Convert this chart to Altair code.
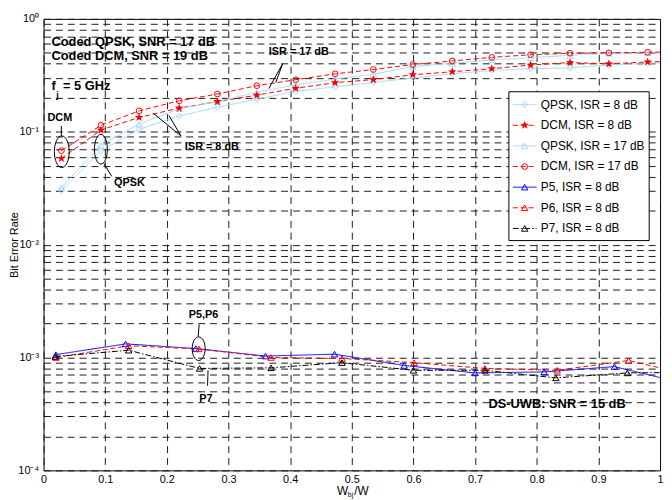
import math
import altair as alt
import pandas as pd

# ---------------- data ----------------
series_names = ["QPSK, ISR = 8 dB", "DCM, ISR = 8 dB", "QPSK, ISR = 17 dB",
                "DCM, ISR = 17 dB", "P5, ISR = 8 dB", "P6, ISR = 8 dB", "P7, ISR = 8 dB"]

x_up = [0.029, 0.093, 0.155, 0.22, 0.282, 0.346, 0.409, 0.473, 0.535, 0.599,
        0.663, 0.727, 0.79, 0.854, 0.917, 0.98, 1.043]
qpsk8 = [0.030, 0.068, 0.105, 0.138, 0.165, 0.194, 0.228, 0.25, 0.274, 0.299,
         0.326, 0.35, 0.362, 0.368, 0.39, 0.404, 0.415]
dcm8 = [0.058, 0.1035, 0.134, 0.162, 0.185, 0.211, 0.243, 0.272, 0.29, 0.32,
        0.34, 0.362, 0.39, 0.41, 0.40, 0.415, 0.425]
qpsk17 = [0.032, 0.076, 0.117, 0.16, 0.185, 0.224, 0.261, 0.293, 0.324, 0.378,
          0.404, 0.432, 0.453, 0.475, 0.495, 0.50, 0.505]
dcm17 = [0.068, 0.114, 0.153, 0.188, 0.216, 0.256, 0.289, 0.326, 0.356, 0.394,
         0.424, 0.456, 0.481, 0.496, 0.500, 0.506, 0.51]

x_p5 = [0.02, 0.133, 0.247, 0.36, 0.472, 0.585, 0.70, 0.812, 0.926, 1.039]
p5 = [1.06e-3, 1.32e-3, 1.2e-3, 1.03e-3, 1.07e-3, 0.85e-3, 0.73e-3, 0.745e-3, 0.83e-3, 0.59e-3]
x_p6 = [0.02, 0.138, 0.252, 0.369, 0.484, 0.601, 0.716, 0.833, 0.949, 1.064]
p6 = [1.0e-3, 1.27e-3, 1.19e-3, 1.0e-3, 0.98e-3, 0.90e-3, 0.80e-3, 0.77e-3, 0.94e-3, 0.67e-3]
x_p7 = [0.019, 0.138, 0.253, 0.369, 0.484, 0.60, 0.716, 0.831, 0.947, 1.064]
p7 = [1.02e-3, 1.16e-3, 0.80e-3, 0.81e-3, 0.90e-3, 0.77e-3, 0.77e-3, 0.66e-3, 0.73e-3, 0.74e-3]

x_ticks = [0, 0.1, 0.2, 0.3, 0.4, 0.5, 0.6, 0.7, 0.8, 0.9, 1]

# legend placement (data coordinates of the box, the rows, sample line and label)
leg_box_x = [0.7548, 0.9824]
leg_box_y = [0.2261, 0.01086]
leg_row_y = [0.1740, 0.1142, 0.07494, 0.04920, 0.03229, 0.02120, 0.01391]
leg_line_x = [0.7612, 0.7997]
leg_mark_x = 0.7804
leg_label_x = 0.8066

# annotation texts (data coordinates)
big_text = ["Coded QPSK, SNR = 17 dB", "Coded DCM, SNR = 19 dB", "f", "= 5 GHz"]
big_x = [0.0128, 0.0128, 0.0128, 0.0315]
big_y = [0.623, 0.465, 0.252, 0.252]
ctr_text = ["DS-UWB: SNR = 15 dB"]
ctr_x = [0.833]
ctr_y = [3.89e-4]
small_text = ["DCM", "QPSK", "ISR = 17 dB", "ISR = 8 dB", "P5,P6", "P7"]
small_x = [0.0264, 0.1394, 0.414, 0.273, 0.2596, 0.2633]
small_y = [0.132, 0.0352, 0.506, 0.0726, 2.40e-3, 4.27e-4]
sub_text = ["j"]
sub_x = [0.0205]
sub_y = [0.212]

# annotation segments
seg_x = [0.0288, 0.0978, 0.3878, 0.3878, 0.2228, 0.2228, 0.2524, 0.2668]
seg_y = [0.1124, 0.0523, 0.400, 0.400, 0.0919, 0.0919, 1.96e-3, 7.68e-4]
seg_x2 = [0.0288, 0.1106, 0.3654, 0.3766, 0.1779, 0.2035, 0.2508, 0.266]
seg_y2 = [0.0919, 0.0402, 0.2416, 0.2727, 0.146, 0.139, 1.54e-3, 5.62e-4]

# annotation ellipses
ell_name = ["DCM", "QPSK", "P5P6"]
ell_x = [0.0296, 0.093, 0.2516]
ell_y = [0.0665, 0.070, 1.197e-3]

# x axis title pieces
xt_text = ["W", "/W"]
xt_x = [0.4760, 0.5040]
xt_y = [6.07e-5, 6.07e-5]
xs_text = ["bj"]
xs_x = [0.4935]
xs_y = [5.84e-5]

# ---------------- styles ----------------
LB = "#9fd8f3"
RED = "#ff0000"
BLUE = "#0000ff"
BLACK = "#000000"
colors = [LB, RED, LB, RED, BLUE, RED, BLACK]
dashes = [[1, 0], [5, 3], [1, 0], [5, 3], [1, 0], [5, 3], [6, 2, 1.5, 2]]
FONT = "Liberation Sans"


def star_path(r_out, r_in):
    pts = []
    for i in range(10):
        a = math.radians(-90 + 36 * i)
        r = r_out if i % 2 == 0 else r_in
        pts.append(f"{r * math.cos(a):.3f},{r * math.sin(a):.3f}")
    return "M" + "L".join(pts) + "Z"


STAR = star_path(1.0, 0.42)

rows = []
for name, xs, ys in zip(series_names,
                        [x_up, x_up, x_up, x_up, x_p5, x_p6, x_p7],
                        [qpsk8, dcm8, qpsk17, dcm17, p5, p6, p7]):
    for xv, yv in zip(xs, ys):
        rows.append({"series": name, "x": xv, "ber": yv})
df = pd.DataFrame(rows)

leg_df = pd.DataFrame({
    "series": series_names,
    "x": [leg_mark_x] * len(series_names),
    "xa": [leg_line_x[0]] * len(series_names),
    "xb": [leg_line_x[1]] * len(series_names),
    "xl": [leg_label_x] * len(series_names),
    "ber": leg_row_y,
})
box_df = pd.DataFrame({"x": [leg_box_x[0]], "x2": [leg_box_x[1]],
                       "ber": [leg_box_y[0]], "ber2": [leg_box_y[1]]})

# ---------------- encodings ----------------
yvals = [m * 10.0 ** e for e in range(-4, 0) for m in range(1, 10)] + [1.0]
ylabel = ("abs(datum.value / pow(10, round(log(datum.value) / LN10)) - 1) < 1e-6 ? "
          "'10' + ['\u207b\u2074','\u207b\u00b3','\u207b\u00b2','\u207b\u00b9','\u2070']"
          "[round(log(datum.value) / LN10) + 4] : ''")

X = alt.X("x:Q", scale=alt.Scale(domain=[0, 1], nice=False, zero=False),
          axis=alt.Axis(values=x_ticks, format="~g", title=None, grid=True, tickSize=0,
                        labelPadding=3, labelFontSize=11, labelFont=FONT,
                        labelColor="black", domain=False, labelFlush=False))
Y = alt.Y("ber:Q", scale=alt.Scale(type="log", domain=[1e-4, 1], nice=False),
          axis=alt.Axis(values=yvals, labelExpr=ylabel, title="Bit Error Rate",
                        grid=True, tickSize=0, labelPadding=5, labelFontSize=11,
                        labelFont=FONT, labelColor="black", titleFont=FONT,
                        titleFontSize=11, titleFontWeight="normal",
                        titleX=-29, titleY=228.5, titleBaseline="middle",
                        titleAlign="center", titleAngle=270,
                        titleColor="black", domain=False, labelFlush=False))

color_enc = alt.Color("series:N", scale=alt.Scale(domain=series_names, range=colors), legend=None)
dash_enc = alt.StrokeDash("series:N", scale=alt.Scale(domain=series_names, range=dashes), legend=None)

lines = alt.Chart(df).mark_line(clip=True, strokeWidth=1).encode(
    x=X, y=Y, color=color_enc, strokeDash=dash_enc)


def pts(data, names, shape, size, filled=False, clip=True):
    return alt.Chart(data).transform_filter(
        alt.FieldOneOfPredicate(field="series", oneOf=names)
    ).mark_point(clip=clip, filled=filled, shape=shape, size=size, strokeWidth=1, opacity=1).encode(
        x=X, y=Y, color=color_enc)


groups = [([series_names[0]], "diamond", 36, False),
          ([series_names[2], series_names[4], series_names[5], series_names[6]], "triangle-up", 42, False),
          ([series_names[3]], "circle", 34, False),
          ([series_names[1]], STAR, 80, True)]
point_layers = [pts(df, n, s, z, f) for n, s, z, f in groups]

# legend drawn from the same scales
leg_box = alt.Chart(box_df).mark_rect(fill="white", stroke="black", strokeWidth=1).encode(
    x=X, x2="x2:Q", y=Y, y2="ber2:Q")
leg_lines = alt.Chart(leg_df).mark_rule(strokeWidth=1).encode(
    x=alt.X("xa:Q", scale=alt.Scale(domain=[0, 1], nice=False, zero=False)), x2="xb:Q",
    y=Y, color=color_enc, strokeDash=dash_enc)
leg_points = [pts(leg_df, n, s, z, f, clip=False) for n, s, z, f in groups]
leg_labels = alt.Chart(leg_df).mark_text(font=FONT, fontSize=12, align="left", baseline="middle",
                                         color="black").encode(
    x=alt.X("xl:Q", scale=alt.Scale(domain=[0, 1], nice=False, zero=False)), y=Y, text="series:N")

big_df = pd.DataFrame({"t": big_text, "x": big_x, "ber": big_y})
ctr_df = pd.DataFrame({"t": ctr_text, "x": ctr_x, "ber": ctr_y})
small_df = pd.DataFrame({"t": small_text, "x": small_x, "ber": small_y})
sub_df = pd.DataFrame({"t": sub_text, "x": sub_x, "ber": sub_y})
seg_df = pd.DataFrame({"x": seg_x, "ber": seg_y, "x2": seg_x2, "ber2": seg_y2})
ell_df = pd.DataFrame({"n": ell_name, "x": ell_x, "ber": ell_y})
xt_df = pd.DataFrame({"t": xt_text, "x": xt_x, "ber": xt_y})
xs_df = pd.DataFrame({"t": xs_text, "x": xs_x, "ber": xs_y})

t_big = alt.Chart(big_df).mark_text(font=FONT, fontSize=13, fontWeight="bold", align="left",
                                    baseline="middle", color="black").encode(x=X, y=Y, text="t:N")
t_ctr = alt.Chart(ctr_df).mark_text(font=FONT, fontSize=13, fontWeight="bold", align="center",
                                    baseline="middle", color="black").encode(x=X, y=Y, text="t:N")
t_small = alt.Chart(small_df).mark_text(font=FONT, fontSize=11, fontWeight="bold", align="center",
                                        baseline="middle", color="black").encode(x=X, y=Y, text="t:N")
t_sub = alt.Chart(sub_df).mark_text(font=FONT, fontSize=9, fontWeight="bold", align="left",
                                    baseline="middle", color="black").encode(x=X, y=Y, text="t:N")
segs = alt.Chart(seg_df).mark_rule(color="black", strokeWidth=1).encode(
    x=X, y=Y, x2="x2:Q", y2="ber2:Q")


def ell(rx, ry):
    return f"M{-rx},0A{rx},{ry} 0 1,0 {rx},0A{rx},{ry} 0 1,0 {-rx},0Z"


ell_shapes = [ell(0.47, 1.0), ell(0.41, 0.94), ell(0.41, 0.75)]
ell_layers = [
    alt.Chart(ell_df).transform_filter(alt.datum.n == nm).mark_point(
        filled=False, color="black", strokeWidth=1, size=1024, opacity=1, shape=sh
    ).encode(x=X, y=Y)
    for nm, sh in zip(ell_name, ell_shapes)
]

xt = alt.Chart(xt_df).mark_text(font=FONT, fontSize=12, align="left", baseline="alphabetic",
                                color="black").encode(x=X, y=Y, text="t:N")
xs = alt.Chart(xs_df).mark_text(font=FONT, fontSize=7, align="left", baseline="alphabetic",
                                color="black").encode(x=X, y=Y, text="t:N")

chart = alt.layer(lines, *point_layers, segs, *ell_layers,
                  t_big, t_ctr, t_small, t_sub, xt, xs,
                  leg_box, leg_lines, *leg_points, leg_labels).properties(
    width=624, height=457,
    autosize=alt.AutoSizeParams(type="none"),
    padding={"left": 36, "top": 8, "right": 4, "bottom": 28},
    background="white",
).configure_view(stroke="black", strokeWidth=1).configure_axis(
    gridDash=[7, 5], gridColor="#1a1a1a", gridWidth=1, gridOpacity=1
)

chart.save("out.html", embed_options={"renderer": "svg", "actions": False})
